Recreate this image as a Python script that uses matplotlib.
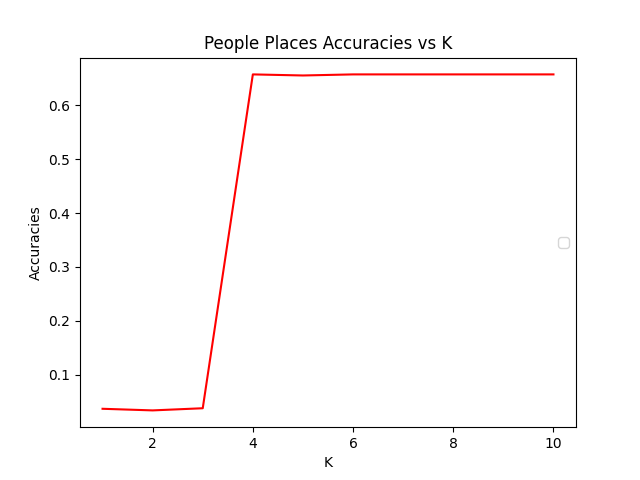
import matplotlib
matplotlib.use("Agg")
import matplotlib.pyplot as plt

# K values and accuracies
k_values = [1, 2, 3, 4, 5, 6, 7, 8, 9, 10]
accuracies = [0.037, 0.034, 0.038, 0.657, 0.655, 0.657, 0.657, 0.657, 0.657, 0.657]

fig, ax = plt.subplots(figsize=(6.4, 4.8), dpi=100)
ax.plot(k_values, accuracies, color='red')
ax.set_title('People Places Accuracies vs K')
ax.set_xlabel('K')
ax.set_ylabel('Accuracies')
ax.legend(handles=[], loc='center right')

fig.savefig('out.png')
